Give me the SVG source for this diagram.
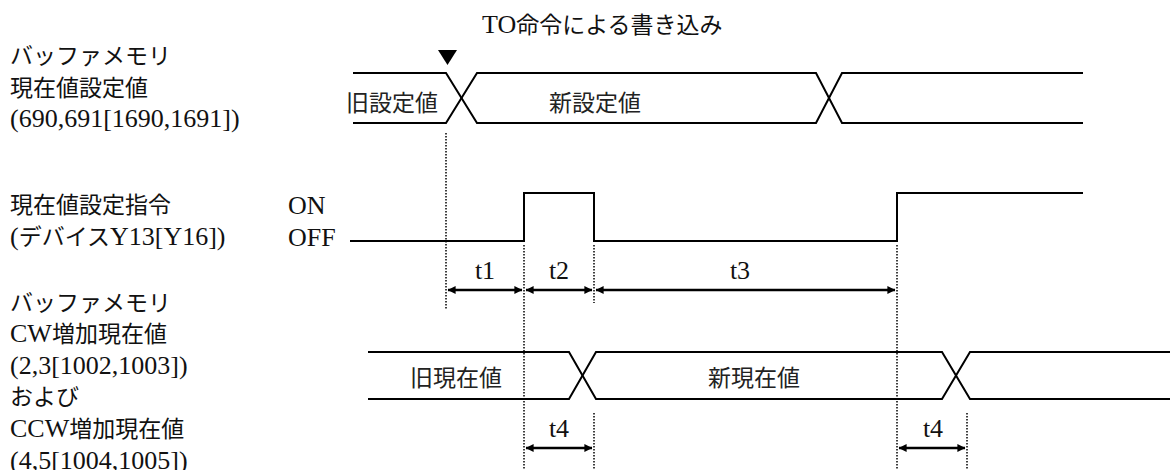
<svg xmlns="http://www.w3.org/2000/svg" width="1170" height="470" viewBox="0 0 1170 470">
<style>
text{font-family:"Liberation Serif","Noto Sans CJK JP",serif;font-size:26px;fill:#111}
.j{font-family:"Noto Sans CJK JP","Liberation Serif",serif;font-size:23px}
.g{font-family:"Noto Sans CJK JP","Liberation Sans",sans-serif;font-size:23px;fill:#222}
.w{fill:none;stroke:#000;stroke-width:2}
.d{fill:none;stroke:#000;stroke-width:1.5;stroke-dasharray:1.5 1.5}
.a{fill:none;stroke:#000;stroke-width:2.5;marker-start:url(#ah);marker-end:url(#ah)}
</style>
<defs>
<marker id="ah" viewBox="0 0 10 10" refX="9.5" refY="5" markerWidth="4" markerHeight="3.2" orient="auto-start-reverse" markerUnits="strokeWidth">
<path d="M0,0 L10,5 L0,10 Z" fill="#000"/>
</marker>
</defs>
<text x="482" y="33">TO<tspan class="j">命令による書き込み</tspan></text>
<g id="label-buffer-set">
<text class="j" x="10" y="64">バッファメモリ</text>
<text class="j" x="10" y="96">現在値設定値</text>
<text x="10" y="127">(690,691[1690,1691])</text>
</g>
<g id="label-command">
<text class="j" x="10" y="213">現在値設定指令</text>
<text x="10" y="245">(<tspan class="j">デバイス</tspan>Y13[Y16])</text>
</g>
<g id="label-buffer-current">
<text class="j" x="10" y="311">バッファメモリ</text>
<text x="10" y="342">CW<tspan class="j">増加現在値</tspan></text>
<text x="10" y="374">(2,3[1002,1003])</text>
<text class="j" x="10" y="405">および</text>
<text x="10" y="437">CCW<tspan class="j">増加現在値</tspan></text>
<text x="10" y="469">(4,5[1004,1005])</text>
</g>
<g id="sig-set-value">
<polygon points="438,50 457,50 447.5,65" fill="#000"/>
<path class="w" d="M353,73 H446 L477,123 H816 L842,73 H1083"/>
<path class="w" d="M353,123 H446 L477,73 H816 L842,123 H1083"/>
<text class="g" x="392" y="111" text-anchor="middle">旧設定値</text>
<text class="g" x="595" y="111" text-anchor="middle">新設定値</text>
</g>
<g id="sig-command">
<text x="288" y="214">ON</text>
<text x="288" y="246">OFF</text>
<path class="w" d="M350,241 H524 V193 H594 V241 H897 V193 H1083"/>
</g>
<g id="sig-current">
<path class="w" d="M368,352 H569 L596,399 H942 L970,352 H1170"/>
<path class="w" d="M368,399 H569 L596,352 H942 L970,399 H1170"/>
<text class="g" x="456" y="386" text-anchor="middle">旧現在値</text>
<text class="g" x="754" y="386" text-anchor="middle">新現在値</text>
</g>
<g id="connectors">
<path class="d" d="M446,133 V310"/>
<path class="d" d="M524,245 V470"/>
<path class="d" d="M594,245 V303"/>
<path class="d" d="M594,413 V470"/>
<path class="d" d="M897,245 V470"/>
<path class="d" d="M967,413 V470"/>
<path class="a" d="M448,290 H522"/>
<path class="a" d="M526,290 H592"/>
<path class="a" d="M596,290 H895"/>
<path class="a" d="M526,448 H592"/>
<path class="a" d="M899,448 H965"/>
<text x="485" y="279" text-anchor="middle">t1</text>
<text x="559" y="279" text-anchor="middle">t2</text>
<text x="740" y="279" text-anchor="middle">t3</text>
<text x="559" y="437" text-anchor="middle">t4</text>
<text x="933" y="437" text-anchor="middle">t4</text>
</g>
</svg>
